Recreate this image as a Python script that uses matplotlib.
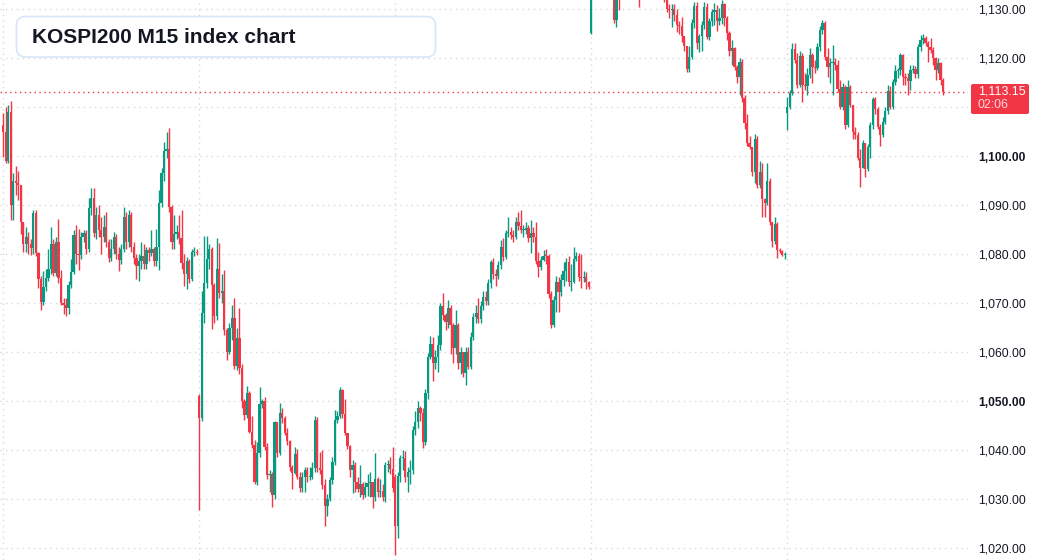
import numpy as np
import matplotlib
matplotlib.use('Agg')
import matplotlib.pyplot as plt
from matplotlib.patches import FancyBboxPatch
from matplotlib.transforms import IdentityTransform

plt.rcParams['font.family'] = ['Liberation Sans', 'DejaVu Sans']

# 5-minute candles, 78 per session; open = previous close except at session start
day1_close = [1105.0, 1099.0, 1109.0, 1090.0, 1095.0, 1094.5, 1094.0, 1086.5, 1082.0, 1083.5,
              1082.0, 1081.3, 1088.4, 1080.2, 1075.0, 1070.2, 1073.3, 1075.2, 1077.0, 1082.0,
              1076.1, 1082.5, 1075.1, 1070.0, 1069.6, 1069.0, 1073.7, 1076.3, 1083.9, 1080.0,
              1079.8, 1083.5, 1084.3, 1081.0, 1089.4, 1091.5, 1084.3, 1088.0, 1085.0, 1083.5,
              1085.5, 1082.5, 1079.2, 1081.0, 1083.5, 1080.0, 1078.8, 1081.0, 1087.6, 1082.5,
              1088.0, 1081.5, 1079.2, 1077.5, 1078.5, 1079.5, 1078.0, 1080.8, 1080.3, 1081.0,
              1078.5, 1081.5, 1090.4, 1096.5, 1101.0, 1101.5, 1089.6, 1082.5, 1084.0, 1084.5,
              1083.3, 1078.2, 1076.0, 1078.6, 1074.9, 1080.4, 1080.4, 1080.3]
day1_high = [1108.8, 1110.0, 1110.5, 1111.2, 1096.5, 1098.0, 1097.0, 1093.0, 1085.0, 1085.5,
             1084.5, 1083.0, 1089.0, 1089.0, 1080.5, 1075.5, 1076.5, 1077.0, 1081.0, 1085.5,
             1083.0, 1083.5, 1087.1, 1076.8, 1071.0, 1071.0, 1074.5, 1079.0, 1085.0, 1086.0,
             1085.2, 1084.5, 1085.0, 1085.0, 1091.4, 1093.5, 1093.5, 1089.5, 1090.0, 1087.5,
             1088.0, 1088.5, 1083.0, 1083.0, 1084.5, 1084.0, 1081.5, 1082.0, 1089.6, 1088.5,
             1089.0, 1088.5, 1082.5, 1080.0, 1080.0, 1082.5, 1082.0, 1081.5, 1081.5, 1085.0,
             1081.5, 1085.2, 1093.0, 1097.5, 1102.9, 1104.9, 1105.7, 1090.0, 1088.0, 1086.0,
             1088.0, 1089.0, 1080.0, 1079.4, 1079.0, 1081.0, 1081.5, 1081.0]
day1_low = [1099.8, 1098.5, 1098.5, 1087.0, 1087.0, 1092.0, 1091.0, 1084.0, 1080.5, 1080.5,
            1080.0, 1079.7, 1080.0, 1079.5, 1073.0, 1068.5, 1069.5, 1072.5, 1074.5, 1076.0,
            1075.5, 1075.5, 1074.0, 1069.5, 1067.8, 1067.3, 1067.8, 1073.0, 1076.0, 1078.0,
            1076.7, 1079.0, 1082.5, 1080.0, 1080.5, 1088.0, 1083.5, 1083.0, 1083.5, 1080.0,
            1082.5, 1081.5, 1078.3, 1078.5, 1080.0, 1079.0, 1076.5, 1078.0, 1080.5, 1081.0,
            1081.5, 1080.5, 1078.0, 1075.0, 1074.5, 1077.0, 1077.0, 1077.0, 1078.5, 1079.5,
            1077.5, 1077.5, 1076.8, 1089.5, 1095.0, 1099.5, 1088.5, 1081.0, 1081.0, 1083.0,
            1082.0, 1077.0, 1073.5, 1072.9, 1074.1, 1074.5, 1079.5, 1079.8]

day2_close = [1046.5, 1068.0, 1074.0, 1079.0, 1081.0, 1073.6, 1067.3, 1077.0, 1072.0, 1072.5,
              1064.5, 1060.0, 1064.9, 1067.0, 1057.1, 1062.9, 1056.7, 1050.0, 1047.1, 1051.6,
              1043.7, 1041.0, 1033.5, 1039.4, 1049.4, 1050.0, 1040.6, 1034.9, 1035.0, 1030.8,
              1045.7, 1039.4, 1047.6, 1046.5, 1043.5, 1041.8, 1036.5, 1035.3, 1039.2, 1034.5,
              1032.2, 1034.5, 1035.9, 1034.5, 1034.5, 1036.3, 1046.1, 1036.3, 1036.0, 1032.9,
              1028.6, 1030.0, 1033.9, 1037.5, 1046.1, 1047.0, 1052.2, 1047.3, 1043.5, 1040.8,
              1035.9, 1037.0, 1033.5, 1032.0, 1033.0, 1030.8, 1032.5, 1033.3, 1033.5, 1030.4,
              1034.1, 1031.5, 1031.6, 1030.5, 1036.9, 1037.1, 1036.2, 1032.2]
day2_high = [1051.5, 1072.4, 1083.7, 1083.7, 1082.0, 1081.5, 1074.0, 1083.3, 1082.3, 1076.0,
             1076.8, 1065.0, 1066.0, 1069.5, 1071.0, 1065.0, 1069.0, 1057.5, 1050.5, 1053.0,
             1052.0, 1047.0, 1042.0, 1041.7, 1052.9, 1050.5, 1050.8, 1041.5, 1036.0, 1035.5,
             1046.0, 1044.5, 1049.6, 1048.5, 1047.0, 1044.5, 1042.0, 1037.0, 1040.6, 1040.2,
             1035.5, 1035.5, 1036.5, 1036.5, 1036.5, 1037.5, 1047.0, 1046.8, 1039.5, 1040.0,
             1034.0, 1031.0, 1034.5, 1038.5, 1048.2, 1048.0, 1052.9, 1052.5, 1050.5, 1043.5,
             1041.0, 1038.0, 1037.5, 1034.5, 1037.0, 1033.5, 1033.5, 1035.0, 1035.5, 1033.5,
             1039.4, 1034.5, 1034.0, 1033.0, 1037.5, 1038.0, 1038.5, 1040.6]
day2_low = [1027.7, 1046.0, 1066.0, 1073.0, 1077.0, 1064.6, 1066.0, 1066.5, 1071.0, 1070.0,
            1063.5, 1058.4, 1059.5, 1062.5, 1056.5, 1056.3, 1055.5, 1048.5, 1046.1, 1046.5,
            1043.5, 1040.5, 1033.0, 1032.8, 1038.5, 1048.5, 1040.0, 1034.0, 1031.5, 1028.4,
            1030.0, 1038.5, 1039.0, 1045.5, 1043.0, 1041.0, 1035.8, 1032.0, 1035.0, 1034.0,
            1031.4, 1031.5, 1031.5, 1033.5, 1033.8, 1034.0, 1035.5, 1035.5, 1035.0, 1032.0,
            1024.5, 1026.5, 1029.5, 1033.0, 1037.0, 1045.5, 1046.5, 1046.5, 1043.0, 1040.2,
            1034.5, 1031.3, 1031.5, 1031.5, 1030.5, 1030.0, 1030.5, 1030.6, 1030.5, 1028.2,
            1029.6, 1030.5, 1030.5, 1029.5, 1029.3, 1035.5, 1035.0, 1031.5]

day3_close = [1024.5, 1034.7, 1038.3, 1038.3, 1034.5, 1035.5, 1036.0, 1044.0, 1045.7, 1048.5,
              1047.5, 1041.6, 1051.6, 1059.0, 1061.6, 1057.8, 1059.0, 1061.5, 1069.4, 1067.5,
              1066.1, 1069.0, 1065.5, 1060.8, 1065.5, 1057.8, 1059.9, 1055.7, 1060.0, 1057.0,
              1063.0, 1067.1, 1068.0, 1066.8, 1069.4, 1071.2, 1070.4, 1074.0, 1078.4, 1075.9,
              1075.5, 1077.8, 1081.4, 1079.4, 1084.3, 1084.5, 1083.9, 1083.5, 1086.5, 1085.8,
              1084.9, 1085.0, 1085.3, 1083.3, 1084.3, 1083.5, 1078.6, 1077.3, 1078.8, 1079.6,
              1079.5, 1071.8, 1065.5, 1070.6, 1074.3, 1072.3, 1074.7, 1076.5, 1078.4, 1074.3,
              1074.3, 1078.9, 1079.6, 1075.3, 1075.2, 1075.4, 1074.3, 1073.3]
day3_high = [1035.0, 1035.5, 1039.0, 1040.0, 1039.8, 1036.5, 1038.0, 1045.0, 1048.0, 1050.0,
             1049.0, 1048.5, 1052.5, 1059.8, 1063.3, 1063.0, 1060.5, 1063.5, 1070.0, 1072.0,
             1068.0, 1070.6, 1069.5, 1066.0, 1068.5, 1066.0, 1061.0, 1060.0, 1061.0, 1061.0,
             1064.0, 1068.0, 1069.5, 1071.0, 1070.5, 1072.5, 1072.5, 1075.0, 1078.8, 1079.2,
             1077.0, 1078.5, 1082.8, 1083.3, 1085.0, 1087.5, 1085.5, 1085.0, 1087.5, 1088.6,
             1089.0, 1086.0, 1086.5, 1086.0, 1086.9, 1085.5, 1086.5, 1080.4, 1079.5, 1080.8,
             1081.0, 1080.0, 1072.5, 1071.5, 1075.5, 1075.3, 1076.0, 1078.4, 1079.2, 1079.6,
             1078.0, 1081.5, 1080.5, 1080.2, 1080.0, 1076.5, 1076.3, 1074.5]
day3_low = [1018.6, 1022.0, 1033.5, 1036.0, 1033.5, 1031.5, 1033.0, 1035.0, 1043.0, 1044.5,
            1046.0, 1040.5, 1041.0, 1050.5, 1058.5, 1054.0, 1056.5, 1056.0, 1060.5, 1066.5,
            1064.5, 1065.0, 1059.5, 1057.8, 1059.5, 1056.5, 1055.5, 1055.0, 1053.3, 1056.5,
            1056.5, 1062.5, 1066.0, 1066.0, 1066.0, 1068.5, 1069.5, 1069.5, 1073.0, 1075.0,
            1073.5, 1075.0, 1077.0, 1078.5, 1079.0, 1083.5, 1083.0, 1082.5, 1083.0, 1085.0,
            1084.3, 1083.5, 1084.0, 1082.5, 1080.2, 1082.5, 1078.0, 1075.3, 1076.8, 1078.5,
            1078.0, 1071.0, 1065.0, 1065.1, 1068.2, 1068.2, 1071.5, 1073.5, 1074.5, 1073.5,
            1072.5, 1074.0, 1078.5, 1074.5, 1073.0, 1074.2, 1072.8, 1072.8]

day4_close = [1133.5, 1134.0, 1136.0, 1135.0, 1137.0, 1136.0, 1135.0, 1134.0, 1134.0, 1127.8,
              1133.5, 1132.5, 1134.0, 1135.0, 1136.0, 1135.5, 1134.5, 1135.0, 1134.0, 1133.0,
              1134.5, 1135.0, 1136.0, 1137.0, 1136.0, 1135.0, 1134.5, 1134.0, 1133.5, 1133.0,
              1130.0, 1129.8, 1130.0, 1128.8, 1126.7, 1126.5, 1124.5, 1122.5, 1117.8, 1120.2,
              1127.1, 1130.6, 1123.1, 1124.5, 1126.7, 1130.4, 1124.3, 1127.6, 1129.4, 1129.8,
              1127.6, 1128.2, 1131.0, 1128.2, 1125.1, 1121.4, 1122.0, 1118.2, 1116.1, 1119.2,
              1111.8, 1106.7, 1102.7, 1101.8, 1096.7, 1103.5, 1094.1, 1096.7, 1091.2, 1090.5,
              1095.0, 1086.5, 1082.7, 1086.1, 1080.8, 1080.6, 1079.8, 1079.8]
day4_high = [1135.0, 1135.5, 1137.0, 1136.5, 1138.0, 1137.5, 1136.5, 1135.5, 1135.0, 1135.0,
             1135.0, 1135.0, 1135.0, 1136.0, 1137.0, 1136.5, 1136.0, 1136.0, 1135.5, 1135.0,
             1135.5, 1136.0, 1137.0, 1138.0, 1137.5, 1136.5, 1135.5, 1135.0, 1134.5, 1134.5,
             1134.0, 1131.0, 1131.0, 1131.0, 1130.0, 1127.5, 1128.3, 1124.5, 1122.0, 1122.4,
             1128.0, 1131.4, 1131.4, 1125.0, 1127.5, 1131.5, 1131.2, 1128.2, 1130.0, 1131.2,
             1130.8, 1130.3, 1131.8, 1131.2, 1128.5, 1125.5, 1123.7, 1122.2, 1118.5, 1120.0,
             1119.8, 1112.5, 1108.5, 1104.0, 1101.5, 1104.5, 1104.0, 1099.0, 1098.5, 1091.5,
             1098.5, 1095.5, 1086.5, 1087.5, 1086.5, 1081.2, 1080.8, 1080.5]
day4_low = [1124.8, 1133.0, 1133.5, 1134.0, 1134.5, 1135.0, 1134.0, 1133.0, 1132.5, 1127.2,
            1126.3, 1129.8, 1132.5, 1133.0, 1134.0, 1134.5, 1133.5, 1133.5, 1133.0, 1130.4,
            1132.5, 1134.0, 1134.5, 1135.5, 1135.0, 1134.0, 1133.5, 1133.0, 1132.5, 1131.5,
            1129.4, 1128.2, 1126.3, 1127.5, 1125.3, 1125.0, 1123.3, 1121.5, 1117.1, 1117.1,
            1119.8, 1126.1, 1121.8, 1121.3, 1121.5, 1126.0, 1123.8, 1123.7, 1126.5, 1126.7,
            1125.5, 1126.8, 1127.0, 1126.5, 1123.7, 1120.5, 1118.5, 1117.5, 1115.0, 1112.5,
            1111.0, 1105.5, 1102.0, 1101.5, 1096.0, 1094.5, 1093.5, 1093.5, 1087.6, 1087.6,
            1090.0, 1086.0, 1081.5, 1082.0, 1079.2, 1080.2, 1079.5, 1078.9]

day5_close = [1110.0, 1112.9, 1121.8, 1119.6, 1114.5, 1120.5, 1114.5, 1114.3, 1116.5, 1120.6,
              1118.2, 1118.0, 1122.2, 1125.7, 1127.1, 1120.2, 1118.2, 1119.0, 1119.2, 1118.5,
              1113.7, 1110.0, 1114.1, 1106.3, 1114.1, 1110.4, 1104.9, 1104.3, 1099.6, 1097.5,
              1102.7, 1097.3, 1101.8, 1106.3, 1111.6, 1109.6, 1106.0, 1104.3, 1107.0, 1109.2,
              1113.3, 1110.0, 1115.1, 1117.3, 1117.5, 1120.6, 1116.1, 1116.0, 1115.3, 1117.6,
              1117.8, 1116.7, 1122.2, 1123.7, 1124.1, 1123.1, 1122.2, 1121.6, 1120.0, 1117.6,
              1119.0, 1115.5, 1113.15]
day5_high = [1112.0, 1113.5, 1123.1, 1123.0, 1121.0, 1121.5, 1121.0, 1117.0, 1118.0, 1122.0,
             1121.0, 1119.5, 1123.0, 1126.5, 1127.8, 1127.5, 1122.0, 1120.0, 1122.6, 1120.0,
             1119.5, 1115.5, 1115.0, 1114.5, 1115.5, 1114.5, 1110.5, 1106.0, 1105.0, 1101.5,
             1103.3, 1102.5, 1102.5, 1107.0, 1112.0, 1112.0, 1110.0, 1106.5, 1108.0, 1110.0,
             1114.5, 1114.3, 1115.8, 1118.5, 1118.0, 1121.0, 1120.8, 1117.0, 1117.0, 1118.5,
             1118.5, 1118.3, 1122.8, 1124.7, 1125.0, 1124.5, 1123.5, 1124.1, 1122.2, 1120.3,
             1120.0, 1119.2, 1116.0]
day5_low = [1105.3, 1109.5, 1112.5, 1119.0, 1113.9, 1114.0, 1111.0, 1113.5, 1112.5, 1116.0,
            1115.0, 1117.0, 1117.5, 1121.5, 1125.0, 1119.5, 1116.2, 1115.0, 1112.5, 1117.5,
            1113.0, 1109.5, 1109.3, 1105.5, 1106.0, 1110.0, 1103.5, 1103.5, 1099.2, 1093.7,
            1097.5, 1095.7, 1097.0, 1099.5, 1105.5, 1108.5, 1105.5, 1102.1, 1103.8, 1106.5,
            1108.5, 1109.5, 1109.5, 1114.5, 1116.0, 1116.5, 1114.5, 1114.5, 1112.5, 1113.5,
            1117.0, 1116.0, 1116.0, 1121.5, 1122.8, 1122.5, 1119.2, 1121.0, 1118.5, 1115.5,
            1117.0, 1114.5, 1112.5]

# session opening prices (index of first candle -> open)
session_open = {0: 1106.3, 78: 1051.0, 156: 1034.5, 234: 1125.1, 312: 1108.8}

yticks = [1020, 1030, 1040, 1050, 1060, 1070, 1080, 1090, 1100, 1110, 1120, 1130]
hidden_ticks = [1110]          # covered by the last-price tag
bold_ticks = [1050, 1100]
last_price = 1113.15
last_time = '02:06'

close = np.array(day1_close + day2_close + day3_close + day4_close + day5_close)
high = np.array(day1_high + day2_high + day3_high + day4_high + day5_high)
low = np.array(day1_low + day2_low + day3_low + day4_low + day5_low)
opn = np.concatenate([[close[0]], close[:-1]])
for k, v in session_open.items():
    opn[k] = v
high = np.maximum(high, np.maximum(opn, close))
low = np.minimum(low, np.minimum(opn, close))
idx = np.arange(len(close))

up_col = '#089981'
dn_col = '#f23645'
cols = np.where(close >= opn, up_col, dn_col)

W, H = 1037, 560
fig = plt.figure(figsize=(W / 100, H / 100), dpi=100)
fig.patch.set_facecolor('white')
ax = fig.add_axes([0, 0, 968 / W, 1])

grid_col = '#d5d8de'
for y in yticks:
    ax.axhline(y, color=grid_col, lw=1, ls=(0, (1, 3)), zorder=0)
for k in session_open:
    ax.axvline(k, color=grid_col, lw=1, ls=(0, (1, 3)), zorder=0)

ax.vlines(idx, low, high, colors=cols, lw=1.0, zorder=2)
body_h = np.maximum(np.abs(close - opn), 0.2)
ax.bar(idx, body_h, bottom=np.minimum(opn, close), width=0.9, color=cols, lw=0, zorder=3)

ax.axhline(last_price, color=dn_col, lw=1, ls=(0, (1, 2.5)), zorder=4)

ax.set_xlim(-1.27, 383.9)
ax.set_ylim(1017.55, 1131.84)
for s in ax.spines.values():
    s.set_visible(False)
ax.set_xticks([])
ax.yaxis.tick_right()
shown = [v for v in yticks if v not in hidden_ticks]
ax.set_yticks(shown)
ax.set_yticklabels(['{:,.2f}'.format(v) for v in shown])
ax.tick_params(axis='y', length=0, pad=7.3, labelsize=8.7, labelcolor='#131722')
for lab, v in zip(ax.get_yticklabels(), shown):
    if v in bold_ticks:
        lab.set_fontweight('bold')

# last price tag
tag = FancyBboxPatch((971, H - 114), 58, 30, boxstyle='round,pad=0,rounding_size=2',
                     transform=IdentityTransform(), facecolor=dn_col, edgecolor='none', zorder=10)
fig.add_artist(tag)
fig.text(978 / W, 1 - 91.5 / H, '{:,.2f}'.format(last_price), color='white',
         fontsize=8.9, va='center', ha='left', zorder=11)
fig.text(978 / W, 1 - 105.5 / H, last_time, color='#ffd6da',
         fontsize=8.9, va='center', ha='left', zorder=11)

# title box
box = FancyBboxPatch((16.5, H - 57), 419, 40.5, boxstyle='round,pad=0,rounding_size=9',
                     transform=IdentityTransform(), facecolor='white',
                     edgecolor='#d9e6f7', lw=1.2, zorder=10)
fig.add_artist(box)
fig.text(32 / W, 1 - 37.5 / H, 'KOSPI200 M15 index chart', fontsize=15,
         fontweight='bold', color='#131722', va='center', ha='left', zorder=11)

fig.savefig('out.png', dpi=100)
